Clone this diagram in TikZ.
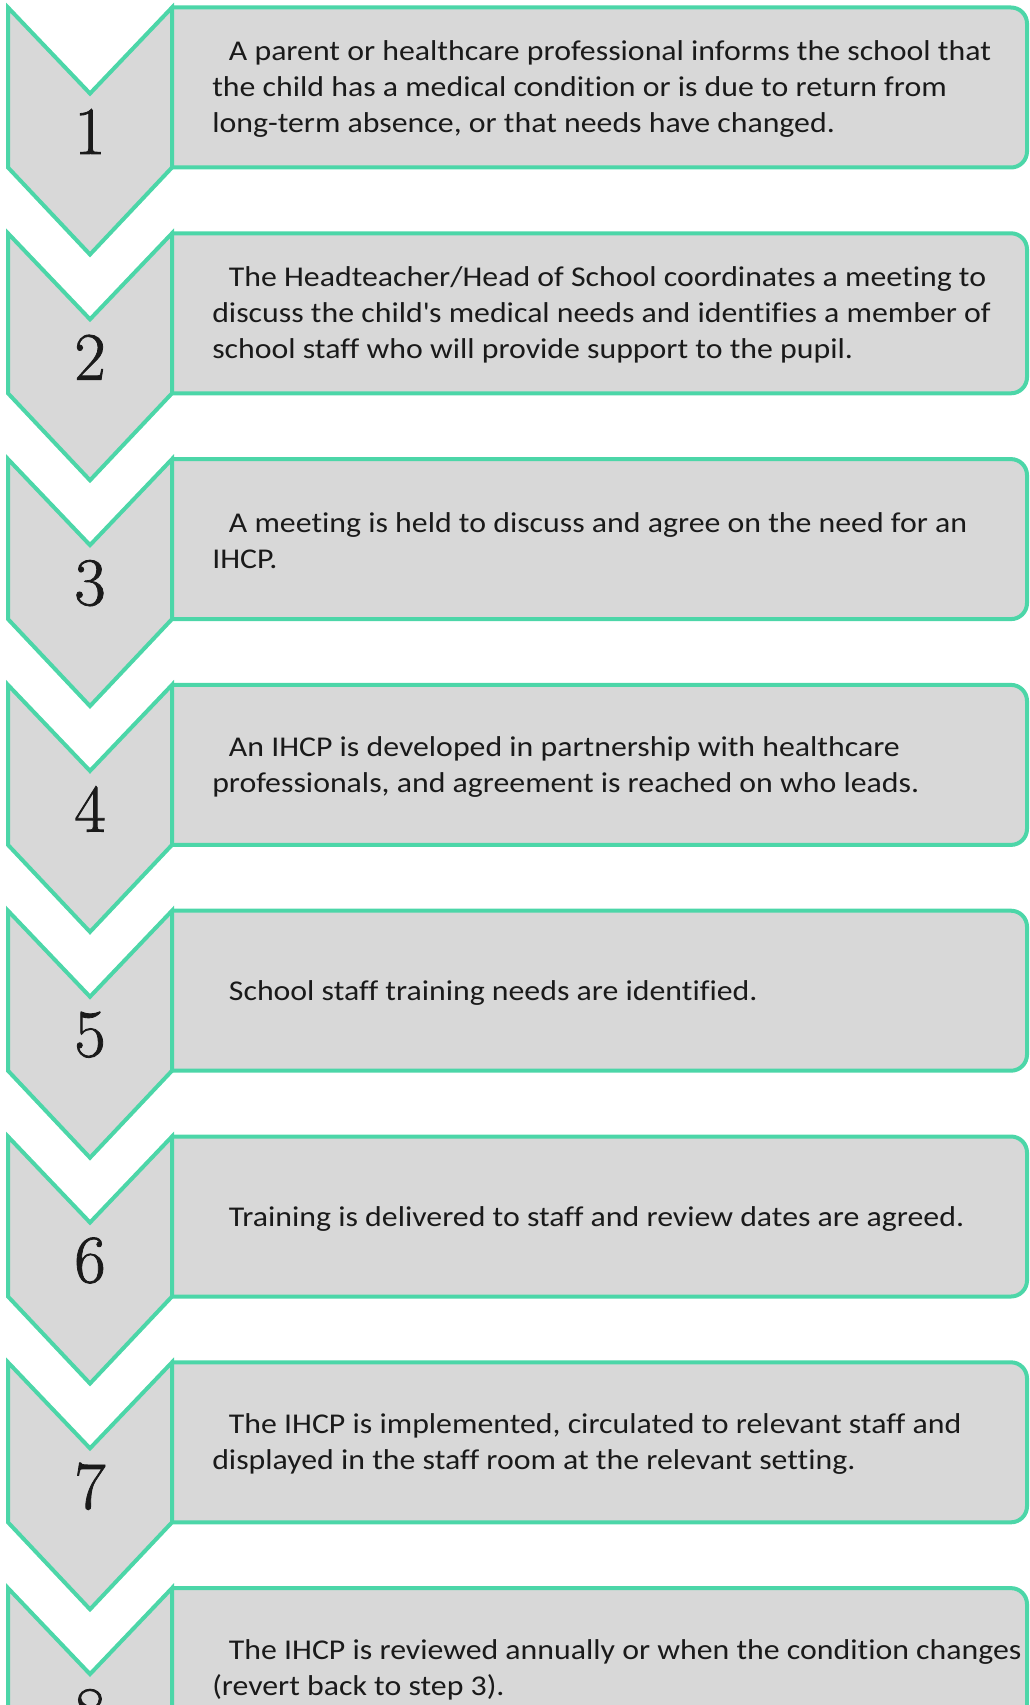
\documentclass[tikz,border=0pt]{standalone}
\usepackage{fontspec}
\newfontfamily\bodyfont[FakeStretch=1.11,Ligatures={NoCommon}]{Carlito}
\newfontfamily\numfont[FakeBold=1.2]{Latin Modern Roman}
\definecolor{mint}{HTML}{4CD6A8}
\definecolor{boxgray}{HTML}{D8D8D8}
\definecolor{ink}{HTML}{1A1A1A}
\begin{document}
\begin{tikzpicture}[x=0.75pt,y=-0.75pt,
  frame/.style={draw=mint,fill=boxgray,line width=3pt,line join=miter},
  steptext/.style={anchor=west,align=left,text=ink,inner sep=0pt,
    font=\bodyfont\fontsize{21.5}{27}\selectfont},
  stepnum/.style={inner sep=0pt,text=ink,font=\numfont\fontsize{51}{51}\selectfont}]
\useasboundingbox (0,0) rectangle (1029,1705);
\clip (0,0) rectangle (1029,1705);
\foreach \i/\txt in {
 1/{\hspace*{12.5pt}A parent or healthcare professional informs the school that\\the child has a medical condition or is due to return from\\long-term absence, or that needs have changed.},
 2/{\hspace*{12.5pt}The Headteacher/Head of School coordinates a meeting to\\discuss the child\textquotesingle s medical needs and identifies a member of\\school staff who will provide support to the pupil.},
 3/{\hspace*{12.5pt}A meeting is held to discuss and agree on the need for an\\IHCP.},
 4/{\hspace*{12.5pt}An IHCP is developed in partnership with healthcare\\professionals, and agreement is reached on who leads.},
 5/{\hspace*{12.5pt}School staff training needs are identified.},
 6/{\hspace*{12.5pt}Training is delivered to staff and review dates are agreed.},
 7/{\hspace*{12.5pt}The IHCP is implemented, circulated to relevant staff and\\displayed in the staff room at the relevant setting.},
 8/{\hspace*{12.5pt}The IHCP is reviewed annually or when the condition changes\\(revert back to step 3).}}{
  \pgfmathsetmacro\t{7.5+(\i-1)*225.8}
  \draw[frame,rounded corners=12pt] (172,\t) -- (1027,\t) -- (1027,\t+160) -- (172,\t+160);
  \draw[frame] (8,\t) -- (90,\t+86) -- (172,\t) -- (172,\t+160) -- (90,\t+247) -- (8,\t+160) -- cycle;
  \node[stepnum] (num\i) at (90,\t+124) {\i};
  \node[steptext] (txt\i) at (212,\t+82) {\txt};
}
\end{tikzpicture}
\end{document}
